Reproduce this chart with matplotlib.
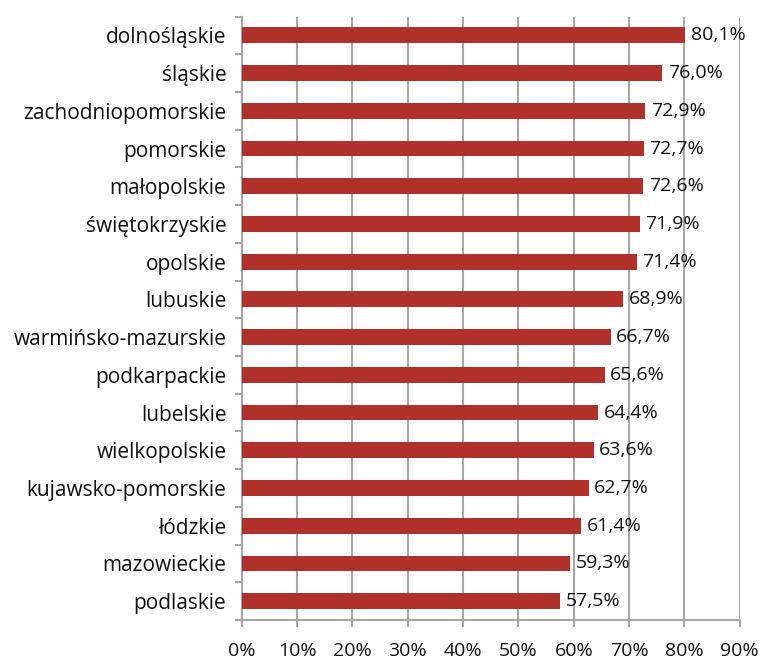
import matplotlib.pyplot as plt
import numpy as np
from matplotlib.ticker import FixedLocator

plt.rcParams['font.family'] = ['Open Sans', 'DejaVu Sans']

regions = ['dolnośląskie', 'śląskie', 'zachodniopomorskie', 'pomorskie',
           'małopolskie', 'świętokrzyskie', 'opolskie', 'lubuskie',
           'warmińsko-mazurskie', 'podkarpackie', 'lubelskie', 'wielkopolskie',
           'kujawsko-pomorskie', 'łódzkie', 'mazowieckie', 'podlaskie']
values = [80.1, 76.0, 72.9, 72.7, 72.6, 71.9, 71.4, 68.9,
          66.7, 65.6, 64.4, 63.6, 62.7, 61.4, 59.3, 57.5]
xticks = list(range(0, 100, 10))

bar_color = '#b0302a'
grid_color = '#a6a6a6'
text_color = '#111111'

fig = plt.figure(figsize=(7.65, 6.61), dpi=100)
ax = fig.add_axes([0.316, 0.062, 0.651, 0.913])

y = np.arange(len(regions))[::-1]
ax.barh(y, values, height=0.42, color=bar_color, zorder=3)

for yi, v in zip(y, values):
    ax.text(v + 1.0, yi, f'{v:.1f}%'.replace('.', ','), va='center', ha='left',
            fontsize=14, color=text_color, zorder=4)

ax.set_xlim(0, 90)
ax.set_ylim(-0.5, len(regions) - 0.5)
ax.set_xticks(xticks)
ax.set_xticklabels([f'{t}%' for t in xticks], fontsize=14, color=text_color)
ax.set_yticks(y)
ax.set_yticklabels(regions, fontsize=15, color=text_color)
ax.yaxis.set_minor_locator(FixedLocator(np.arange(-0.5, len(regions), 1)))
ax.tick_params(axis='y', which='major', length=0, pad=11)
ax.tick_params(axis='y', which='minor', length=5, color=grid_color, width=1.5)
ax.tick_params(axis='x', length=5, color=grid_color, width=1.5, pad=11)

ax.grid(axis='x', color=grid_color, linewidth=1.5, zorder=0)
for s in ['top', 'right']:
    ax.spines[s].set_visible(False)
for s in ['left', 'bottom']:
    ax.spines[s].set_color(grid_color)
    ax.spines[s].set_linewidth(1.5)

fig.savefig('out.png', dpi=100)
